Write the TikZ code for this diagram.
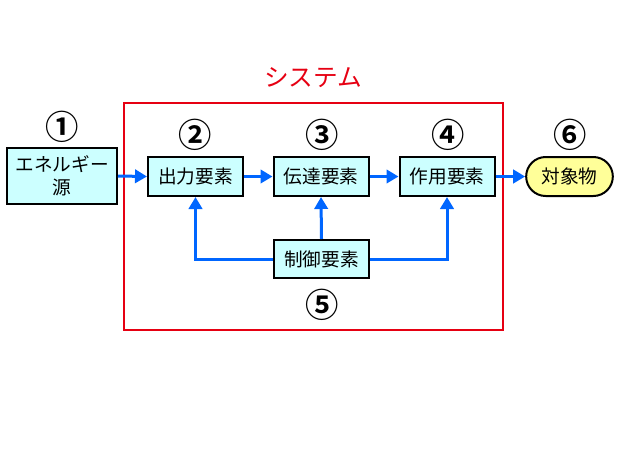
\documentclass[tikz,border=0pt]{standalone}
\usepackage{fontspec}
\setmainfont{Noto Sans CJK JP}[BoldFont={Noto Sans CJK JP Bold}]
\usetikzlibrary{arrows.meta,shapes.misc}
\definecolor{flowblue}{RGB}{0,102,255}
\definecolor{boxcyan}{RGB}{204,255,255}
\definecolor{objyellow}{RGB}{255,255,153}
\definecolor{sysred}{RGB}{230,0,18}
\tikzset{
  elem/.style={draw=black,line width=1.5pt,fill=boxcyan,minimum height=29.25pt,inner sep=0pt,font=\fontsize{14}{16}\selectfont},
  num/.style={font=\fontsize{25}{25}\selectfont\bfseries,inner sep=0pt},
  flow/.style={flowblue,line width=2.25pt,-{Triangle[length=9pt,width=10pt]}}
}
\begin{document}
\begin{tikzpicture}[x=0.75pt,y=-0.75pt]
\useasboundingbox (0,0) rectangle (620,465);
\draw[sysred,line width=1.5pt] (124,103) rectangle (503,330);
\node[text=sysred,font=\fontsize{18.5}{20}\selectfont] (sys) at (313,78) {システム};
\node[elem,minimum width=82.5pt,minimum height=42pt,align=center,font=\fontsize{14}{17}\selectfont] (src) at (62,176) {エネルギー\\源};
\node[elem,minimum width=71.25pt] (out) at (195.5,176.5) {出力要素};
\node[elem,minimum width=71.25pt] (trn) at (321,176.5) {伝達要素};
\node[elem,minimum width=71.25pt] (act) at (447,176.5) {作用要素};
\node[elem,minimum width=71.25pt,minimum height=28.5pt] (ctl) at (321.5,259) {制御要素};
\node[draw=black,line width=1.5pt,fill=objyellow,rounded rectangle,minimum width=65pt,minimum height=29.25pt,inner sep=0pt,font=\fontsize{14}{16}\selectfont] (obj) at (569.5,176.5) {対象物};
\node[num] (n1) at (62,127) {①};
\node[num] (n2) at (195,135) {②};
\node[num] (n3) at (322,135) {③};
\node[num] (n4) at (448,135) {④};
\node[num] (n5) at (322,305) {⑤};
\node[num] (n6) at (570,135) {⑥};
\draw[flow] (src.east) -- (out.west);
\draw[flow] (out.east) -- (trn.west);
\draw[flow] (trn.east) -- (act.west);
\draw[flow] (act.east) -- (obj.west);
\draw[flow] (ctl.north) -- (trn.south);
\draw[flow] (ctl.west) -| (out.south);
\draw[flow] (ctl.east) -| (act.south);
\end{tikzpicture}
\end{document}
